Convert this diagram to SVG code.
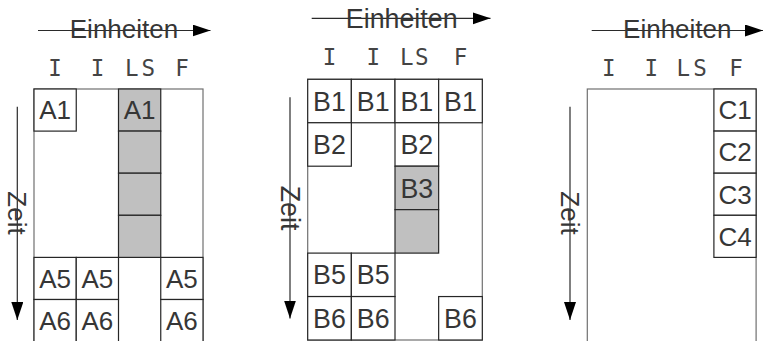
<svg xmlns="http://www.w3.org/2000/svg" width="764" height="341" viewBox="0 0 764 341">
  <defs>
    <style>
      .frame { fill: none; stroke: #707070; stroke-width: 1.2; }
      .cell { fill: #ffffff; stroke: #262626; stroke-width: 1.2; }
      .busy { fill: #c0c0c0; }
      .lbl { font-family: "Liberation Sans", Arial, sans-serif; font-size: 26px; fill: #363636; text-anchor: middle; }
      .lblB { font-size: 26.8px; }
      .axis-t { font-family: "Liberation Sans", Arial, sans-serif; font-size: 26px; fill: #363636; text-anchor: middle; }
      .hdr { font-family: "DejaVu Sans Mono", "Liberation Mono", monospace; font-size: 22.5px; fill: #444444; text-anchor: middle; }
      .axis { fill: none; stroke: #2a2a2a; stroke-width: 1.2; }
    </style>
    <marker id="tip" markerUnits="userSpaceOnUse" markerWidth="19" markerHeight="13" refX="18" refY="6" orient="auto">
      <path d="M0,0 L18,6 L0,12 z" fill="#000000"/>
    </marker>
  </defs>

  <!-- Panel A: frame, column headers, cells -->
  <g id="panel-a">
    <rect class="frame" x="34" y="89" width="169" height="262"/>
    <text class="hdr" x="55.1 97.4 131.7 148.3 181.9" y="75.5">IILSF</text>
    <g id="a-i1-r0"><rect class="cell" x="34" y="89" width="42.25" height="42.1"/><text class="lbl" x="55.1" y="119.3">A1</text></g>
    <g id="a-ls-r0"><rect class="cell busy" x="118.5" y="89" width="42.25" height="42.1"/><text class="lbl" x="139.6" y="119.3">A1</text></g>
    <g id="a-ls-r1"><rect class="cell busy" x="118.5" y="131.1" width="42.25" height="42.1"/></g>
    <g id="a-ls-r2"><rect class="cell busy" x="118.5" y="173.2" width="42.25" height="42.1"/></g>
    <g id="a-ls-r3"><rect class="cell busy" x="118.5" y="215.3" width="42.25" height="42.1"/></g>
    <g id="a-i1-r4"><rect class="cell" x="34" y="257.4" width="42.25" height="42.1"/><text class="lbl" x="55.1" y="287.7">A5</text></g>
    <g id="a-i2-r4"><rect class="cell" x="76.25" y="257.4" width="42.25" height="42.1"/><text class="lbl" x="97.4" y="287.7">A5</text></g>
    <g id="a-f-r4"><rect class="cell" x="160.75" y="257.4" width="42.25" height="42.1"/><text class="lbl" x="181.9" y="287.7">A5</text></g>
    <g id="a-i1-r5"><rect class="cell" x="34" y="299.5" width="42.25" height="42.1"/><text class="lbl" x="55.1" y="329.8">A6</text></g>
    <g id="a-i2-r5"><rect class="cell" x="76.25" y="299.5" width="42.25" height="42.1"/><text class="lbl" x="97.4" y="329.8">A6</text></g>
    <g id="a-f-r5"><rect class="cell" x="160.75" y="299.5" width="42.25" height="42.1"/><text class="lbl" x="181.9" y="329.8">A6</text></g>
  </g>

  <!-- Panel B -->
  <g id="panel-b">
    <rect class="frame" x="307.7" y="79.3" width="174.6" height="260.7"/>
    <text class="hdr" x="329.5 373.2 406.7 421.7 460.5" y="65">IILSF</text>
    <g id="b-i1-r0"><rect class="cell" x="307.7" y="79.3" width="43.65" height="43.45"/><text class="lbl lblB" x="329.5" y="110.6">B1</text></g>
    <g id="b-i2-r0"><rect class="cell" x="351.35" y="79.3" width="43.65" height="43.45"/><text class="lbl lblB" x="373.2" y="110.6">B1</text></g>
    <g id="b-ls-r0"><rect class="cell" x="395" y="79.3" width="43.65" height="43.45"/><text class="lbl lblB" x="416.8" y="110.6">B1</text></g>
    <g id="b-f-r0"><rect class="cell" x="438.65" y="79.3" width="43.65" height="43.45"/><text class="lbl lblB" x="460.5" y="110.6">B1</text></g>
    <g id="b-i1-r1"><rect class="cell" x="307.7" y="122.75" width="43.65" height="43.45"/><text class="lbl lblB" x="329.5" y="154.05">B2</text></g>
    <g id="b-ls-r1"><rect class="cell" x="395" y="122.75" width="43.65" height="43.45"/><text class="lbl lblB" x="416.8" y="154.05">B2</text></g>
    <g id="b-ls-r2"><rect class="cell busy" x="395" y="166.2" width="43.65" height="43.45"/><text class="lbl lblB" x="416.8" y="197.5">B3</text></g>
    <g id="b-ls-r3"><rect class="cell busy" x="395" y="209.65" width="43.65" height="43.45"/></g>
    <g id="b-i1-r4"><rect class="cell" x="307.7" y="253.1" width="43.65" height="43.45"/><text class="lbl lblB" x="329.5" y="284.4">B5</text></g>
    <g id="b-i2-r4"><rect class="cell" x="351.35" y="253.1" width="43.65" height="43.45"/><text class="lbl lblB" x="373.2" y="284.4">B5</text></g>
    <g id="b-i1-r5"><rect class="cell" x="307.7" y="296.55" width="43.65" height="43.45"/><text class="lbl lblB" x="329.5" y="327.85">B6</text></g>
    <g id="b-i2-r5"><rect class="cell" x="351.35" y="296.55" width="43.65" height="43.45"/><text class="lbl lblB" x="373.2" y="327.85">B6</text></g>
    <g id="b-f-r5"><rect class="cell" x="438.65" y="296.55" width="43.65" height="43.45"/><text class="lbl lblB" x="460.5" y="327.85">B6</text></g>
  </g>

  <!-- Panel C -->
  <g id="panel-c">
    <rect class="frame" x="587.3" y="89" width="168.8" height="262"/>
    <text class="hdr" x="608.8 651.2 683.3 700 736" y="75.5">IILSF</text>
    <g id="c-f-r0"><rect class="cell" x="713.9" y="89" width="42.2" height="42.1"/><text class="lbl" x="735" y="119.3">C1</text></g>
    <g id="c-f-r1"><rect class="cell" x="713.9" y="131.1" width="42.2" height="42.1"/><text class="lbl" x="735" y="161.4">C2</text></g>
    <g id="c-f-r2"><rect class="cell" x="713.9" y="173.2" width="42.2" height="42.1"/><text class="lbl" x="735" y="203.5">C3</text></g>
    <g id="c-f-r3"><rect class="cell" x="713.9" y="215.3" width="42.2" height="42.1"/><text class="lbl" x="735" y="245.6">C4</text></g>
  </g>

  <!-- Axis arrows: units (horizontal) and time (vertical) -->
  <g id="connectors">
    <line class="axis" x1="38" y1="30.5" x2="210.5" y2="30.5" marker-end="url(#tip)"/>
    <line class="axis" x1="17.3" y1="106.7" x2="17.3" y2="320" marker-end="url(#tip)"/>
    <line class="axis" x1="311.7" y1="18.3" x2="490.5" y2="18.3" marker-end="url(#tip)"/>
    <line class="axis" x1="290" y1="97.3" x2="290" y2="318.5" marker-end="url(#tip)"/>
    <line class="axis" x1="591.7" y1="30.5" x2="763" y2="30.5" marker-end="url(#tip)"/>
    <line class="axis" x1="570" y1="106.7" x2="570" y2="320" marker-end="url(#tip)"/>
  </g>

  <!-- Axis captions -->
  <g id="captions">
    <text class="axis-t" x="124" y="37.5">Einheiten</text>
    <text class="axis-t" x="401.7" y="27.5" style="font-size:26.8px">Einheiten</text>
    <text class="axis-t" x="677.3" y="37.5">Einheiten</text>
    <text class="axis-t" transform="translate(7.5,213) rotate(90)">Zeit</text>
    <text class="axis-t" transform="translate(280.5,208) rotate(90)" style="font-size:26.8px">Zeit</text>
    <text class="axis-t" transform="translate(560.5,213) rotate(90)">Zeit</text>
  </g>
</svg>
